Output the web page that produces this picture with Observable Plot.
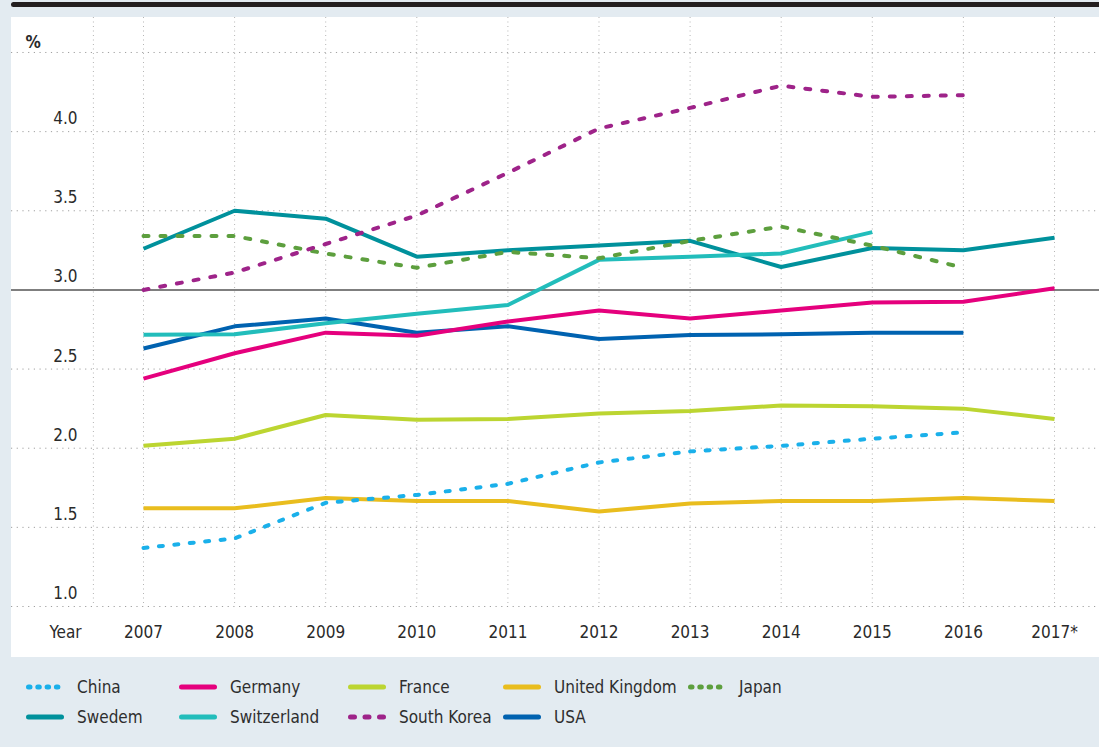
<!DOCTYPE html>
<html>
<head>
<meta charset="utf-8">
<script src="https://cdn.jsdelivr.net/npm/d3@7"></script>
<script src="https://cdn.jsdelivr.net/npm/@observablehq/plot@0.6"></script>
<style>
  html, body { margin: 0; padding: 0; }
  body { width: 1099px; height: 747px; background: #e3ebf1; position: relative; overflow: hidden;
         font-family: "DejaVu Sans Condensed", "Liberation Sans Narrow", "DejaVu Sans", sans-serif; color: #2a2a2a; }
  #bar { position: absolute; left: 11px; top: 2px; width: 1088px; height: 4.5px; background: #231f20; border-radius: 2.5px 0 0 2.5px; }
  #panel { position: absolute; left: 11px; top: 17px; width: 1088px; height: 640px; background: #fff; }
  #legend { position: absolute; left: 26px; top: 672px; display: grid;
            grid-template-columns: 153px 169px 155px 185px 200px; grid-auto-rows: 30px; font-size: 17px; color: #2e2e2e; }
  .item { display: flex; align-items: center; }
  .item svg { margin-right: 13px; flex: none; }
</style>
</head>
<body>
<div id="bar"></div>
<div id="panel"></div>
<div id="legend"></div>
<script>
// ---- data ----
const years = [2007, 2008, 2009, 2010, 2011, 2012, 2013, 2014, 2015, 2016, 2017];
const yearLabels = ["2007", "2008", "2009", "2010", "2011", "2012", "2013", "2014", "2015", "2016", "2017*"];
const yTicks = [1.0, 1.5, 2.0, 2.5, 3.0, 3.5, 4.0];
const gridY = [1.0, 1.5, 2.0, 2.5, 3.0, 3.5, 4.0, 4.5];

const china       = [1.37, 1.43, 1.655, 1.705, 1.775, 1.91, 1.98, 2.015, 2.06, 2.10, null];
const germany     = [2.44, 2.60, 2.73, 2.71, 2.80, 2.87, 2.82, 2.87, 2.92, 2.925, 3.01];
const france      = [2.015, 2.06, 2.21, 2.18, 2.185, 2.22, 2.235, 2.27, 2.265, 2.25, 2.185];
const uk          = [1.62, 1.62, 1.685, 1.667, 1.667, 1.60, 1.65, 1.667, 1.667, 1.685, 1.667];
const japan       = [3.34, 3.34, 3.23, 3.14, 3.24, 3.20, 3.31, 3.40, 3.28, 3.14, null];
const sweden      = [3.26, 3.50, 3.45, 3.21, 3.25, 3.28, 3.31, 3.145, 3.265, 3.25, 3.33];
const switzerland = [2.716, 2.72, 2.79, 2.85, 2.905, 3.19, 3.21, 3.23, 3.365, null, null];
const southKorea  = [3.00, 3.11, 3.29, 3.47, 3.74, 4.02, 4.15, 4.29, 4.22, 4.23, null];
const usa         = [2.63, 2.77, 2.82, 2.73, 2.77, 2.69, 2.715, 2.72, 2.73, 2.73, null];

const series = [
  {name: "China",       values: china,       color: "#1ab0ea", dash: "4,11.5",  legendDash: "1.5,7.8"},
  {name: "Germany",     values: germany,     color: "#e5007d", dash: null},
  {name: "France",      values: france,      color: "#bcd531", dash: null},
  {name: "United Kingdom", values: uk,       color: "#e9bd1e", dash: null},
  {name: "Japan",       values: japan,       color: "#5d9f3e", dash: "5,12",    legendDash: "1.5,7.8"},
  {name: "Swedem",      values: sweden,      color: "#00919c", dash: null},
  {name: "Switzerland", values: switzerland, color: "#22bdbb", dash: null},
  {name: "South Korea", values: southKorea,  color: "#9e2389", dash: "5,12",    legendDash: "4,10.5"},
  {name: "USA",         values: usa,         color: "#0062b0", dash: null}
];
const drawOrder = ["USA", "Swedem", "Switzerland", "Germany", "France", "United Kingdom", "China", "Japan", "South Korea"];

// table built from arrays
const rows = series.flatMap(s => years.map((yr, i) => ({country: s.name, year: yr, value: s.values[i]}))
  .filter(d => d.value != null));

const labelColumnEdge = 2006.45;

const lineMarks = drawOrder.map(name => {
  const s = series.find(d => d.name === name);
  return Plot.line(rows.filter(d => d.country === name), {
    x: "year", y: "value", stroke: s.color, strokeWidth: 4,
    strokeDasharray: s.dash || undefined, strokeLinecap: s.dash ? "round" : "butt"
  });
});

const chart = Plot.plot({
  width: 1088, height: 640,
  marginLeft: 0, marginRight: 0, marginTop: 0, marginBottom: 51,
  x: {domain: [2005.551, 2017.494], axis: null},
  y: {domain: [1.0, 4.721], axis: null},
  style: {fontFamily: '"DejaVu Sans Condensed", "Liberation Sans Narrow", "DejaVu Sans", sans-serif',
          fontSize: "17px", color: "#2a2a2a", background: "white", overflow: "visible"},
  marks: [
    Plot.ruleX([labelColumnEdge, ...years], {stroke: "#b5b5b5", strokeDasharray: "1,3.5"}),
    Plot.ruleY(gridY.filter(v => v !== 3), {stroke: "#a0a0a0", strokeDasharray: "1.2,4.5"}),
    Plot.ruleY([3.0], {stroke: "#555", strokeWidth: 1.5}),
    ...lineMarks,
    Plot.text(yTicks, {y: d => d, text: d => d.toFixed(1), frameAnchor: "left", dx: 66, dy: -13, textAnchor: "end", fill: "#2a2a2a"}),
    Plot.text(years, {x: d => d, text: (d, i) => yearLabels[i], frameAnchor: "bottom", dy: 26, lineAnchor: "middle", fill: "#2a2a2a"}),
    Plot.text(["Year"], {text: d => d, frameAnchor: "bottom-left", dx: 54, dy: 26, lineAnchor: "middle", textAnchor: "middle", fill: "#2a2a2a"}),
    Plot.text(["%"], {text: d => d, frameAnchor: "top-left", dx: 14, dy: 25, lineAnchor: "middle", textAnchor: "start", fontWeight: "bold", fill: "#2a2a2a"})
  ]
});
document.getElementById("panel").appendChild(chart);

// legend (two rows, columns as in source)
const legendOrder = ["China", "Germany", "France", "United Kingdom", "Japan", "Swedem", "Switzerland", "South Korea", "USA"];
const legend = document.getElementById("legend");
legendOrder.forEach(name => {
  const s = series.find(d => d.name === name);
  const item = document.createElement("div");
  item.className = "item";
  const dash = s.legendDash ? `stroke-dasharray="${s.legendDash}" stroke-linecap="round"` : `stroke-linecap="round"`;
  item.innerHTML = `<svg width="38" height="10"><line x1="2.5" x2="35.5" y1="5" y2="5" stroke="${s.color}" stroke-width="5" ${dash}/></svg><span>${name}</span>`;
  legend.appendChild(item);
});
</script>
</body>
</html>
